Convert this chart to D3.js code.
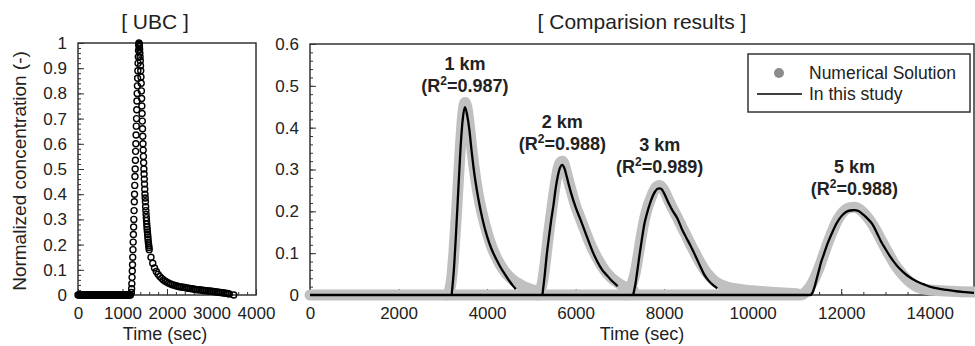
<!DOCTYPE html>
<html>
<head>
<meta charset="utf-8">
<script src="https://cdn.jsdelivr.net/npm/d3@7"></script>
<style>
  body { margin: 0; background: #fff; }
  svg { display: block; font-family: "Liberation Sans", Arial, sans-serif; }
</style>
</head>
<body>
<div id="chart"></div>
<script>
  ///////////////////////////////////////////////////////////////
 // ------------------------- DATA -------------------------- //
///////////////////////////////////////////////////////////////

// UBC input curve. Sampled finer (5 s) where the pulse moves fast.
var ubcTime = [].concat(d3.range(0, 1200, 20), d3.range(1200, 1600, 5), d3.range(1600, 3440, 40), [3500]);
var ubcConc = [
  // 0 - 1180 s
  0,0,0,0,0,0,0,0,0,0, 0,0,0,0,0,0,0,0,0,0, 0,0,0,0,0,0,0,0,0,0,
  0,0,0,0,0,0,0,0,0,0, 0,0,0,0,0,0,0,0,0,0, 0,0,0,0,0,0,0,0,0,0,
  // 1200 - 1595 s
  0.01,0.025,0.045,0.07,0.095,0.12,0.15,0.18,0.21,0.24,
  0.27,0.30,0.335,0.37,0.40,0.435,0.47,0.50,0.535,0.57,
  0.60,0.635,0.67,0.70,0.735,0.77,0.80,0.83,0.86,0.89,
  0.92,0.945,0.97,0.99,1.0,
  0.995,0.985,0.975,0.96,0.945,0.93,0.91,0.89,0.865,0.84,
  0.81,0.78,0.75,0.72,0.69,0.66,0.63,0.60,0.575,0.55,
  0.525,0.50,0.48,0.46,0.44,0.42,0.40,0.385,0.37,0.35,
  0.335,0.32,0.307,0.295,0.282,0.27,0.26,0.25,0.24,0.23,
  0.22,0.21,0.203,0.195,0.188,
  // 1600 - 3400 s
  0.18,0.15,0.126,0.107,0.093,0.082,0.073,0.066,0.060,0.055,
  0.051,0.047,0.044,0.041,0.039,0.037,0.035,0.033,0.032,0.031,
  0.030,0.028,0.027,0.026,0.025,0.024,0.022,0.021,0.021,0.020,
  0.019,0.018,0.017,0.016,0.016,0.015,0.014,0.013,0.012,0.011,
  0.010,0.009,0.008,0.007,0.006,0.004,
  // 3500 s
  0
];

var distances = ["1 km", "2 km", "3 km", "5 km"];
var r2Values = ["0.987", "0.988", "0.989", "0.988"];

// Numerical solution (grey markers)
var numTime1 = [3100,3150,3200,3250,3300,3350,3400,3450,3500,3550,3600,3650,3700,3800,3900,4000,4100,4200,4300,4400,4500,4600,4700,4800,4900,5000,5100,5200];
var numConc1 = [0,0.01,0.04,0.1,0.18,0.27,0.36,0.43,0.46,0.445,0.405,0.355,0.31,0.24,0.19,0.15,0.117,0.092,0.072,0.056,0.044,0.035,0.028,0.022,0.017,0.013,0.01,0.008];
var numTime2 = [5150,5200,5250,5300,5350,5400,5450,5500,5550,5600,5650,5700,5750,5800,5900,6000,6100,6200,6300,6400,6500,6600,6700,6800,6900,7000,7100,7200,7300];
var numConc2 = [0,0.01,0.03,0.065,0.11,0.155,0.195,0.235,0.27,0.3,0.316,0.32,0.31,0.29,0.25,0.213,0.185,0.157,0.13,0.106,0.086,0.068,0.053,0.042,0.033,0.026,0.02,0.015,0.012];
var numTime3 = [7150,7200,7250,7300,7350,7400,7450,7500,7550,7600,7700,7800,7900,8000,8100,8200,8300,8400,8500,8600,8700,8800,8900,9000,9100,9200,9400,9600,9800,10000,10500,11000];
var numConc3 = [0,0.01,0.02,0.035,0.055,0.085,0.118,0.15,0.178,0.2,0.232,0.255,0.262,0.25,0.227,0.205,0.185,0.163,0.142,0.12,0.1,0.08,0.062,0.048,0.037,0.029,0.02,0.015,0.012,0.01,0.006,0.003];
var numTime5 = [0,11100,11200,11300,11400,11500,11600,11700,11800,11900,12000,12100,12200,12300,12400,12500,12600,12700,12800,12900,13000,13100,13200,13300,13400,13500,13600,13700,13800,14000,14500,15000];
var numConc5 = [0,0,0.008,0.02,0.04,0.065,0.095,0.125,0.152,0.176,0.193,0.204,0.209,0.21,0.206,0.197,0.185,0.17,0.152,0.132,0.112,0.093,0.075,0.06,0.047,0.036,0.027,0.02,0.016,0.012,0.009,0.007];

// In this study (black lines)
var studyTime1 = [3200,3250,3300,3350,3400,3450,3500,3550,3600,3650,3700,3800,3900,4000,4100,4200,4300,4400,4500,4600,4650];
var studyConc1 = [0,0.06,0.15,0.25,0.35,0.42,0.449,0.43,0.395,0.345,0.3,0.232,0.18,0.14,0.11,0.087,0.067,0.05,0.034,0.02,0.014];
var studyTime2 = [5250,5300,5350,5400,5450,5500,5550,5600,5650,5700,5750,5800,5850,5900,6000,6100,6200,6300,6400,6500,6600,6700,6800,6900,6950];
var studyConc2 = [0,0.045,0.098,0.14,0.18,0.215,0.255,0.285,0.305,0.311,0.302,0.283,0.262,0.243,0.21,0.183,0.155,0.127,0.1,0.078,0.06,0.048,0.036,0.026,0.021];
var studyTime3 = [7300,7350,7400,7450,7500,7550,7600,7700,7800,7850,7900,7950,8000,8100,8200,8300,8400,8500,8600,8700,8800,8900,9000,9100,9200];
var studyConc3 = [0,0.025,0.062,0.1,0.135,0.168,0.19,0.225,0.248,0.254,0.255,0.252,0.243,0.22,0.2,0.183,0.158,0.137,0.117,0.095,0.072,0.05,0.035,0.024,0.016];
var studyTime5 = [0,11300,11350,11400,11450,11500,11550,11600,11700,11800,11900,12000,12100,12200,12300,12400,12500,12600,12700,12800,12900,13000,13100,13200,13300,13400,13500,13600,13700,13800,13900,14000,14200,14400,14600,14800,15000];
var studyConc5 = [0,0,0.005,0.02,0.04,0.06,0.08,0.095,0.125,0.15,0.172,0.188,0.198,0.202,0.203,0.2,0.192,0.182,0.17,0.15,0.128,0.11,0.093,0.078,0.065,0.055,0.046,0.039,0.033,0.028,0.024,0.02,0.015,0.012,0.009,0.007,0.005];

// Tick labels
var ubcXTicks = [0, 1000, 2000, 3000, 4000];
var ubcYTicks = [0, 0.1, 0.2, 0.3, 0.4, 0.5, 0.6, 0.7, 0.8, 0.9, 1];
var ubcYLabels = ["0", "0.1", "0.2", "0.3", "0.4", "0.5", "0.6", "0.7", "0.8", "0.9", "1"];
var cmpXTicks = [0, 2000, 4000, 6000, 8000, 10000, 12000, 14000];
var cmpYTicks = [0, 0.1, 0.2, 0.3, 0.4, 0.5, 0.6];
var cmpYLabels = ["0", "0.1", "0.2", "0.3", "0.4", "0.5", "0.6"];


  ///////////////////////////////////////////////////////////////
 // ------------------------ SETUP -------------------------- //
///////////////////////////////////////////////////////////////

var svg = d3.select("#chart").append("svg")
            .attr("width", 975)
            .attr("height", 346);

var frameColor = "#333";
var textColor = "#222";

var xUbc = d3.scaleLinear().domain([0, 4000]).range([78, 256]);
var yUbc = d3.scaleLinear().domain([0, 1]).range([295, 43]);
var xCmp = d3.scaleLinear().domain([0, 15000]).range([310, 974]);
var yCmp = d3.scaleLinear().domain([0, 0.6]).range([295, 44]);

// Axes with inside ticks, major + minor, and a closed frame
function drawFrame(x, y, xTicks, xMinorStep, yTicks, yLabels, yMinorStep) {
    var x0 = x.range()[0], x1 = x.range()[1], y0 = y.range()[1], y1 = y.range()[0];
    var xd = x.domain(), yd = y.domain();
    var g = svg.append("g");

    g.append("rect")
     .attr("x", x0).attr("y", y0)
     .attr("width", x1 - x0).attr("height", y1 - y0)
     .attr("fill", "none")
     .attr("stroke", frameColor)
     .attr("stroke-width", 1.5);

    // minor ticks
    g.append("g").attr("transform", "translate(" + x0 + ",0)")
     .call(d3.axisLeft(y).tickValues(d3.range(yd[0], yd[1] + 1e-9, yMinorStep)).tickSize(-3).tickFormat(""))
     .call(function(a) { a.select(".domain").remove(); });
    g.append("g").attr("transform", "translate(0," + y1 + ")")
     .call(d3.axisBottom(x).tickValues(d3.range(xd[0], xd[1], xMinorStep)).tickSize(-3).tickFormat(""))
     .call(function(a) { a.select(".domain").remove(); });

    // major ticks + labels
    g.append("g").attr("transform", "translate(" + x0 + ",0)")
     .call(d3.axisLeft(y).tickValues(yTicks).tickSize(-6).tickPadding(11)
             .tickFormat(function(d, i) { return yLabels[i]; }))
     .call(function(a) { a.select(".domain").remove(); });
    g.append("g").attr("transform", "translate(0," + y1 + ")")
     .call(d3.axisBottom(x).tickValues(xTicks).tickSize(-6).tickPadding(12)
             .tickFormat(function(d) { return String(d); }))
     .call(function(a) { a.select(".domain").remove(); });

    g.selectAll(".tick line").attr("stroke", frameColor);
    g.selectAll(".tick text")
     .attr("font-family", null)
     .attr("font-size", 17)
     .attr("fill", textColor);
    g.selectAll("g").attr("font-family", null);
}


  ///////////////////////////////////////////////////////////////
 // ---------------------- UBC PANEL ------------------------ //
///////////////////////////////////////////////////////////////

drawFrame(xUbc, yUbc, ubcXTicks, 200, ubcYTicks, ubcYLabels, 0.02);

svg.append("g")
   .selectAll("circle")
   .data(ubcTime)
   .enter().append("circle")
   .attr("cx", function(d) { return xUbc(d); })
   .attr("cy", function(d, i) { return yUbc(ubcConc[i]); })
   .attr("r", 3)
   .attr("fill", "none")
   .attr("stroke", "#000")
   .attr("stroke-width", 1.4);

svg.append("text")
   .attr("x", 155).attr("y", 29)
   .attr("text-anchor", "middle")
   .attr("font-size", 21)
   .attr("fill", textColor)
   .text("[ UBC ]");

svg.append("text")
   .attr("x", 165).attr("y", 340)
   .attr("text-anchor", "middle")
   .attr("font-size", 18)
   .attr("fill", textColor)
   .text("Time (sec)");

svg.append("text")
   .attr("transform", "translate(25.5,171) rotate(-90)")
   .attr("text-anchor", "middle")
   .attr("font-size", 19)
   .attr("fill", textColor)
   .text("Normalized concentration (-)");


  ///////////////////////////////////////////////////////////////
 // ------------------- COMPARISON PANEL -------------------- //
///////////////////////////////////////////////////////////////

drawFrame(xCmp, yCmp, cmpXTicks, 500, cmpYTicks, cmpYLabels, 0.02);

var numSeries = [[numTime1, numConc1], [numTime2, numConc2], [numTime3, numConc3], [numTime5, numConc5]];
var studySeries = [[studyTime1, studyConc1], [studyTime2, studyConc2], [studyTime3, studyConc3], [studyTime5, studyConc5]];

var curve = d3.line()
              .x(function(d) { return xCmp(d[0]); })
              .y(function(d) { return yCmp(d[1]); })
              .curve(d3.curveMonotoneX);

function pairs(s) { return s[0].map(function(t, i) { return [t, s[1][i]]; }); }

// grey numerical solution drawn as a dense marker band
svg.append("g")
   .selectAll("path")
   .data(numSeries)
   .enter().append("path")
   .attr("d", function(s) { return curve(pairs(s)); })
   .attr("fill", "none")
   .attr("stroke", "#c0c0c0")
   .attr("stroke-width", 11)
   .attr("stroke-linecap", "round")
   .attr("stroke-linejoin", "round");

svg.append("g")
   .selectAll("path")
   .data(studySeries)
   .enter().append("path")
   .attr("d", function(s) { return curve(pairs(s)); })
   .attr("fill", "none")
   .attr("stroke", "#000")
   .attr("stroke-width", 2.3);

// peak annotations, placed above each black peak
studySeries.forEach(function(s, i) {
    var k = d3.maxIndex(s[1]);
    var cx = xCmp(s[0][k]), cy = yCmp(s[1][k]);
    svg.append("text")
       .attr("x", cx).attr("y", cy - 37)
       .attr("text-anchor", "middle")
       .attr("font-size", 18)
       .attr("font-weight", "bold")
       .attr("fill", textColor)
       .text(distances[i]);
    var t = svg.append("text")
       .attr("x", cx).attr("y", cy - 15)
       .attr("text-anchor", "middle")
       .attr("font-size", 18)
       .attr("font-weight", "bold")
       .attr("fill", textColor);
    t.append("tspan").text("(R");
    t.append("tspan").attr("dy", -7).attr("font-size", 12).text("2");
    t.append("tspan").attr("dy", 7).text("=" + r2Values[i] + ")");
});

svg.append("text")
   .attr("x", 642).attr("y", 29)
   .attr("text-anchor", "middle")
   .attr("font-size", 21)
   .attr("fill", textColor)
   .text("[ Comparision results ]");

svg.append("text")
   .attr("x", 642).attr("y", 340)
   .attr("text-anchor", "middle")
   .attr("font-size", 18)
   .attr("fill", textColor)
   .text("Time (sec)");

// Legend
var legend = svg.append("g");
legend.append("rect")
      .attr("x", 748).attr("y", 54)
      .attr("width", 222).attr("height", 58)
      .attr("fill", "#fff")
      .attr("stroke", frameColor)
      .attr("stroke-width", 1.5);
legend.append("circle")
      .attr("cx", 779).attr("cy", 73).attr("r", 5)
      .attr("fill", "#8c8c8c");
legend.append("line")
      .attr("x1", 757).attr("x2", 802)
      .attr("y1", 94).attr("y2", 94)
      .attr("stroke", "#000").attr("stroke-width", 1.5);
legend.append("text")
      .attr("x", 809).attr("y", 79)
      .attr("font-size", 17.5).attr("fill", textColor)
      .text("Numerical Solution");
legend.append("text")
      .attr("x", 809).attr("y", 100)
      .attr("font-size", 17.5).attr("fill", textColor)
      .text("In this study");
</script>
</body>
</html>
